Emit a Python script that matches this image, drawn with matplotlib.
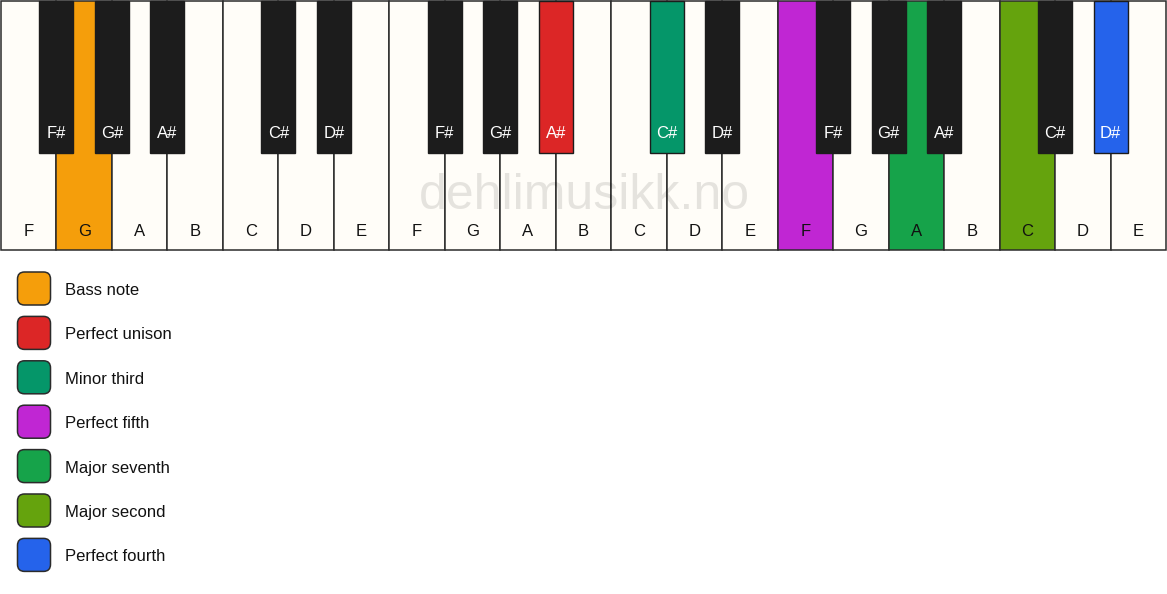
import matplotlib
matplotlib.use("Agg")
import matplotlib.pyplot as plt
from matplotlib.patches import Rectangle, FancyBboxPatch

# ---- data ----
white_notes = ["F", "G", "A", "B", "C", "D", "E"] * 3
# black keys: (name, index of white key to its left)
black_notes = []
for octv in range(3):
    for name, off in [("F#", 0), ("G#", 1), ("A#", 2), ("C#", 4), ("D#", 5)]:
        black_notes.append((name, octv * 7 + off))

white_highlight = {1: "#F59E0B", 14: "#C026D3", 16: "#16A34A", 18: "#65A30D"}
black_highlight = {9: "#DC2626", 11: "#059669", 19: "#2563EB"}

legend_labels = ["Bass note", "Perfect unison", "Minor third", "Perfect fifth",
                 "Major seventh", "Major second", "Perfect fourth"]
legend_colors = ["#F59E0B", "#DC2626", "#059669", "#C026D3",
                 "#16A34A", "#65A30D", "#2563EB"]

watermark = "dehlimusikk.no"

# ---- drawing ----
W_PX, H_PX = 1167, 594
fig = plt.figure(figsize=(W_PX / 100, H_PX / 100), dpi=100)
ax = fig.add_axes([0, 0, 1, 1])
ax.set_xlim(0, W_PX)
ax.set_ylim(H_PX, 0)
ax.axis("off")
fig.patch.set_facecolor("white")

font = ["Liberation Sans", "DejaVu Sans"]
x0, kb_w, kb_h = 1.0, 1165.0, 249.0
wk = kb_w / len(white_notes)
bk_w, bk_h = 34.0, 152.0
edge = "#2b2b2b"

for i, n in enumerate(white_notes):
    fc = white_highlight.get(i, "#FFFDF8")
    ax.add_patch(Rectangle((x0 + i * wk, 0.5), wk, kb_h, facecolor=fc,
                           edgecolor=edge, linewidth=1.1, zorder=1))
    ax.text(x0 + (i + 0.5) * wk, 231, n, ha="center", va="center",
            fontsize=12, color="#111111", family=font, zorder=2)

ax.text(584, 196, watermark, ha="center", va="center", fontsize=36,
        color="#000000", alpha=0.10, family=font, zorder=3)

for name, left in black_notes:
    cx = x0 + (left + 1) * wk
    fc = black_highlight.get(left, "#1C1C1C")
    ax.add_patch(Rectangle((cx - bk_w / 2, 0.5), bk_w, bk_h, facecolor=fc,
                           edgecolor="#1C1C1C", linewidth=1.0, zorder=4))
    ax.text(cx, 133.5, name, ha="center", va="center", fontsize=12,
            color="white", family=font, zorder=5)

for k, (lab, col) in enumerate(zip(legend_labels, legend_colors)):
    cy = 288.5 + k * 44.4
    ax.add_patch(FancyBboxPatch((17.5, cy - 16.5), 33, 33,
                                boxstyle="round,pad=0,rounding_size=7",
                                facecolor=col, edgecolor="#2b2b2b",
                                linewidth=1.1, zorder=2))
    ax.text(65, cy + 2, lab, ha="left", va="center", fontsize=12,
            color="#111111", family=font, zorder=2)

fig.savefig("out.png", dpi=100, facecolor="white")
